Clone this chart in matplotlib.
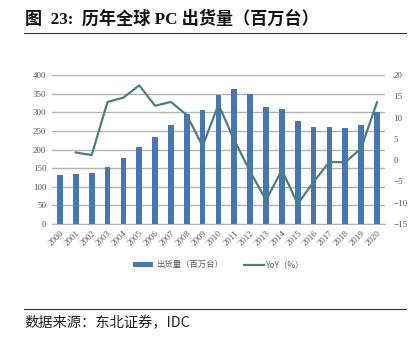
import numpy as np
import matplotlib.pyplot as plt

plt.rcParams['font.family'] = ['Liberation Serif', 'Noto Sans CJK SC']

years = [str(y) for y in range(2000, 2021)]
shipments = [131, 134, 136, 154, 176, 207, 234, 267, 295, 305, 346,
             362, 349, 315, 309, 276, 260, 260, 258, 266, 302]
yoy = [None, 1.8, 1.2, 13.7, 14.7, 17.6, 12.8, 13.7, 10.6, 3.3, 13.1,
       4.7, -2.7, -9.4, -2.3, -10.3, -5.1, -0.4, -0.5, 2.8, 13.6]

bar_color = '#4677b3'
line_color = '#4b8080'
tick_color = '#595959'

fig = plt.figure(figsize=(4.13, 3.43), dpi=100)
ax = fig.add_axes([0.126, 0.347, 0.806, 0.434])
x = np.arange(len(years))

ax.bar(x, shipments, width=0.36, color=bar_color, zorder=3, label='出货量（百万台）')
ax.set_ylim(0, 400)
ax.set_yticks(range(0, 401, 50))
ax.set_xlim(-0.5, len(years) - 0.5)
ax.set_xticks(x)
ax.set_xticklabels(years, rotation=45, ha='right', rotation_mode='anchor')
ax.grid(axis='y', color='#b4b4b4', lw=1.0, zorder=0)
for s in ['top', 'right', 'left']:
    ax.spines[s].set_visible(False)
ax.spines['bottom'].set_color('#b4b4b4')
ax.tick_params(axis='both', length=0, labelsize=6.5, colors=tick_color, pad=4)

ax2 = ax.twinx()
yx = [i for i, v in enumerate(yoy) if v is not None]
yv = [v for v in yoy if v is not None]
ax2.plot(yx, yv, color=line_color, lw=1.6, zorder=4, label='YoY（%）')
ax2.set_ylim(-15, 20)
ax2.set_yticks(range(-15, 21, 5))
for s in ax2.spines.values():
    s.set_visible(False)
ax2.tick_params(axis='y', length=0, labelsize=6.5, colors=tick_color, pad=6)

h1, l1 = ax.get_legend_handles_labels()
h2, l2 = ax2.get_legend_handles_labels()
fig.legend(h1 + h2, l1 + l2, loc='center', bbox_to_anchor=(0.53, 0.228), ncol=2,
           frameon=False, labelcolor=tick_color, handlelength=2.4,
           handleheight=0.45, columnspacing=2.5, handletextpad=0.3,
           prop={'family': ['Noto Sans CJK SC'], 'size': 6})

# title and source
fig.text(0.06, 0.945, '图  23:  历年全球 PC 出货量（百万台）', fontsize=12.3, fontweight='bold',
         family=['Liberation Serif', 'Noto Sans CJK SC'], va='center', ha='left', color='#111111')
fig.add_artist(plt.Line2D([0.058, 0.983], [0.904, 0.904], color='#333333', lw=0.8))
fig.add_artist(plt.Line2D([0.058, 0.983], [0.099, 0.099], color='#333333', lw=0.8))
fig.text(0.06, 0.058, '数据来源：东北证券，IDC', fontsize=10.3,
         family=['Noto Sans CJK SC'], va='center', ha='left', color='#222222')

fig.savefig('out.png', dpi=100)
